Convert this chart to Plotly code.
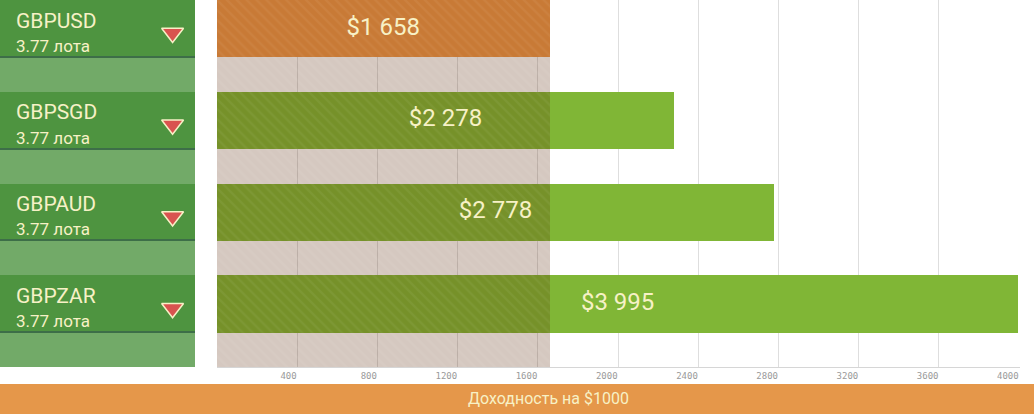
import plotly.graph_objects as go

# ---------------- data ----------------
pairs = ["GBPUSD", "GBPSGD", "GBPAUD", "GBPZAR"]
lot_labels = ["3.77 лота", "3.77 лота", "3.77 лота", "3.77 лота"]
profits = [1658, 2278, 2778, 3995]
tick_values = [400, 800, 1200, 1600, 2000, 2400, 2800, 3200, 3600, 4000]
tick_labels = ["400", "800", "1200", "1600", "2000", "2400", "2800", "3200", "3600", "4000"]
footer_text = "Доходность на $1000"
highlight_index = 0

# ---------------- styles ----------------
ORANGE = "#ee9747"
GREEN = "#80b636"
PANEL_LIGHT = "#72aa68"
PANEL_DARK = "#4e9440"
PANEL_BORDER = "#3d6e48"
CREAM = "#f7f1c6"
FOOTER = "#e5974a"
COND = "Roboto, Liberation Sans Narrow, DejaVu Sans Condensed, sans-serif"

rows = list(range(len(pairs)))
bar_colors = [ORANGE if i == highlight_index else GREEN for i in rows]
n = len(pairs)
BAR_W = 0.625

fig = go.Figure()

# left panel
fig.add_trace(go.Bar(x=[1] * n, y=rows, orientation="h", width=1, offset=0,
                     marker=dict(color=PANEL_LIGHT, line=dict(width=0)),
                     xaxis="x2", yaxis="y", hoverinfo="skip", showlegend=False))
fig.add_trace(go.Bar(x=[1] * n, y=rows, orientation="h", width=0.63, offset=0,
                     marker=dict(color=PANEL_BORDER, line=dict(width=0)),
                     xaxis="x2", yaxis="y", hoverinfo="skip", showlegend=False))
fig.add_trace(go.Bar(x=[1] * n, y=rows, orientation="h", width=0.61, offset=0,
                     marker=dict(color=PANEL_DARK, line=dict(width=0)),
                     xaxis="x2", yaxis="y", hoverinfo="skip", showlegend=False))
fig.add_trace(go.Scatter(x=[0.885] * n, y=[r + 0.36 for r in rows], mode="markers",
                         marker=dict(symbol="triangle-down", size=19, color="#d9534f",
                                     line=dict(color=CREAM, width=1.5)),
                         xaxis="x2", yaxis="y", hoverinfo="skip", showlegend=False))

# main bars
fig.add_trace(go.Bar(x=profits, y=rows, orientation="h", width=BAR_W, offset=0,
                     marker=dict(color=bar_colors, line=dict(width=0)),
                     xaxis="x", yaxis="y", hoverinfo="skip", showlegend=False))

# translucent hatched overlay up to the highlighted value
fig.add_trace(go.Bar(x=[profits[highlight_index]], y=[0.5], orientation="h", width=1,
                     marker=dict(color="rgba(87,35,4,0.25)", line=dict(width=0),
                                 pattern=dict(shape="\\", fillmode="overlay",
                                              fgcolor="rgba(255,255,255,1)", fgopacity=0.05,
                                              size=7, solidity=0.3)),
                     xaxis="x", yaxis="y3", hoverinfo="skip", showlegend=False))

# value labels above the overlay
fig.add_trace(go.Scatter(x=[p / 2 for p in profits], y=[r + BAR_W / 2 for r in rows],
                         mode="text", text=[f"${p:,}".replace(",", " ") for p in profits],
                         textposition="middle center",
                         textfont=dict(family=COND, size=24, color=CREAM),
                         xaxis="x", yaxis="y4", hoverinfo="skip", showlegend=False))

annotations = []
for i in rows:
    annotations.append(dict(x=0.072, y=i + 0.225, xref="x2", yref="y", text=pairs[i],
                            showarrow=False, xanchor="left", yanchor="middle",
                            font=dict(family=COND, size=21, color=CREAM)))
    annotations.append(dict(x=0.072, y=i + 0.50, xref="x2", yref="y", text=lot_labels[i],
                            showarrow=False, xanchor="left", yanchor="middle",
                            font=dict(family=COND, size=17, color=CREAM)))
annotations.append(dict(x=0.530, y=-0.087, xref="paper", yref="paper", text=footer_text,
                        showarrow=False, xanchor="center", yanchor="middle",
                        font=dict(family=COND, size=16, color=CREAM)))

fig.update_layout(
    width=1034, height=417,
    margin=dict(l=0, r=0, t=0, b=50, pad=0),
    paper_bgcolor="white", plot_bgcolor="white",
    barmode="overlay", bargap=0,
    showlegend=False,
    annotations=annotations,
    shapes=[dict(type="rect", xref="paper", yref="paper", x0=0, x1=1, y0=-0.128, y1=-0.0463,
                 fillcolor=FOOTER, line=dict(width=0), layer="above")],
    xaxis=dict(domain=[217 / 1034, 1020 / 1034], range=[0, 4004], tickvals=tick_values,
               ticktext=tick_labels, ticklabelposition="outside left",
               showgrid=True, gridcolor="#dedede", gridwidth=1, zeroline=False,
               showline=True, linecolor="#d6d6d6", linewidth=1, ticks="",
               tickfont=dict(family="DejaVu Sans Mono", size=9, color="#9a9a9a"),
               fixedrange=True),
    xaxis2=dict(domain=[0, 195 / 1034], range=[0, 1], showgrid=False, zeroline=False,
                showticklabels=False, ticks="", anchor="y", fixedrange=True),
    yaxis=dict(range=[n, 0], showgrid=False, zeroline=False, showticklabels=False,
               ticks="", anchor="x", fixedrange=True),
    yaxis3=dict(range=[0, 1], overlaying="y", showgrid=False, zeroline=False,
                showticklabels=False, ticks="", anchor="x", fixedrange=True),
    yaxis4=dict(range=[n, 0], overlaying="y", showgrid=False, zeroline=False,
                showticklabels=False, ticks="", anchor="x", fixedrange=True),
)

fig.write_html("out.html", config={"displayModeBar": False},
               post_script="document.body.style.margin='0';")
